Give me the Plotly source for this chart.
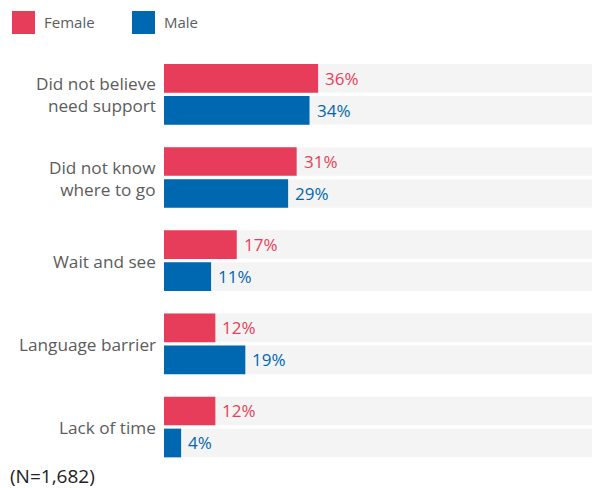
import plotly.graph_objects as go

# Reasons for not seeking support, by gender (percent of respondents)
categories = [
    "Did not believe<br>need support",
    "Did not know<br>where to go",
    "Wait and see",
    "Language barrier",
    "Lack of time",
]
female = [36, 31, 17, 12, 12]
male = [34, 29, 11, 19, 4]
full_scale = 100
series_names = ["Female", "Male"]
note = "(N=1,682)"

FEMALE_COLOR = "#E83D5A"
MALE_COLOR = "#0067B1"
TRACK_COLOR = "#F4F4F4"
LABEL_COLOR = "#5C5C5C"
FONT = "Open Sans, Lato, sans-serif"

W, H = 593, 488
M_L, M_R, M_T, M_B = 164, 1, 44, 11
PLOT_W = W - M_L - M_R
PLOT_H = H - M_T - M_B

# category spacing in pixels, and bar geometry in category units
PITCH = 83.16
OFFSET = 16.0 / PITCH
BAR_W = 28.7 / PITCH
Y_TOP = -50.35 / PITCH
Y_BOTTOM = Y_TOP + PLOT_H / PITCH

LABEL_SIZE = 17.2

idx = list(range(len(categories)))
y_f = [i - OFFSET for i in idx]
y_m = [i + OFFSET for i in idx]


def px_x(px):
    return (px - M_L) / PLOT_W


def px_y(py):
    return (H - M_B - py) / PLOT_H


fig = go.Figure()

# light grey full-length tracks behind every bar
for ys in (y_f, y_m):
    fig.add_trace(go.Bar(
        x=[full_scale] * len(ys), y=ys, orientation="h", width=BAR_W,
        marker=dict(color=TRACK_COLOR, line=dict(width=0)),
        showlegend=False, hoverinfo="skip",
    ))

for name, vals, ys, color in (
    (series_names[0], female, y_f, FEMALE_COLOR),
    (series_names[1], male, y_m, MALE_COLOR),
):
    fig.add_trace(go.Bar(
        x=vals, y=ys, orientation="h", width=BAR_W, name=name,
        marker=dict(color=color, line=dict(width=0)),
        showlegend=False,
    ))
    for v, y in zip(vals, ys):
        fig.add_annotation(
            x=v, y=y, xref="x", yref="y", text=f"{v}%",
            xanchor="left", yanchor="middle", xshift=5, showarrow=False,
            font=dict(family=FONT, size=17, color=color),
        )

# category labels, right-aligned against the bars
for i, label in zip(idx, categories):
    fig.add_annotation(
        x=0, y=i, xref="x", yref="y", text=label, align="right",
        xanchor="right", yanchor="middle", xshift=-6, yshift=-0.5,
        showarrow=False,
        font=dict(family=FONT, size=LABEL_SIZE, color=LABEL_COLOR),
    )

# legend swatches and labels
legend_items = [
    (series_names[0], FEMALE_COLOR, 12, 43),
    (series_names[1], MALE_COLOR, 132, 163),
]
for name, color, sx, tx in legend_items:
    fig.add_shape(
        type="rect", xref="paper", yref="paper",
        x0=px_x(sx), x1=px_x(sx + 23), y0=px_y(34), y1=px_y(11),
        fillcolor=color, line=dict(width=0),
    )
    fig.add_annotation(
        x=px_x(tx - 1), y=px_y(22.5), xref="paper", yref="paper",
        text=name, xanchor="left", yanchor="middle", showarrow=False,
        font=dict(family=FONT, size=15, color=LABEL_COLOR),
    )

fig.add_annotation(
    x=px_x(8), y=px_y(476), xref="paper", yref="paper", text=note,
    xanchor="left", yanchor="middle", showarrow=False,
    font=dict(family=FONT, size=19, color="#222222"),
)

fig.update_layout(
    width=W, height=H,
    margin=dict(l=M_L, r=M_R, t=M_T, b=M_B, pad=0),
    barmode="overlay",
    paper_bgcolor="white", plot_bgcolor="white",
    font=dict(family=FONT),
    showlegend=False,
    xaxis=dict(range=[0, full_scale], visible=False, fixedrange=True),
    yaxis=dict(range=[Y_BOTTOM, Y_TOP], visible=False, fixedrange=True),
)

fig.write_html("out.html")
